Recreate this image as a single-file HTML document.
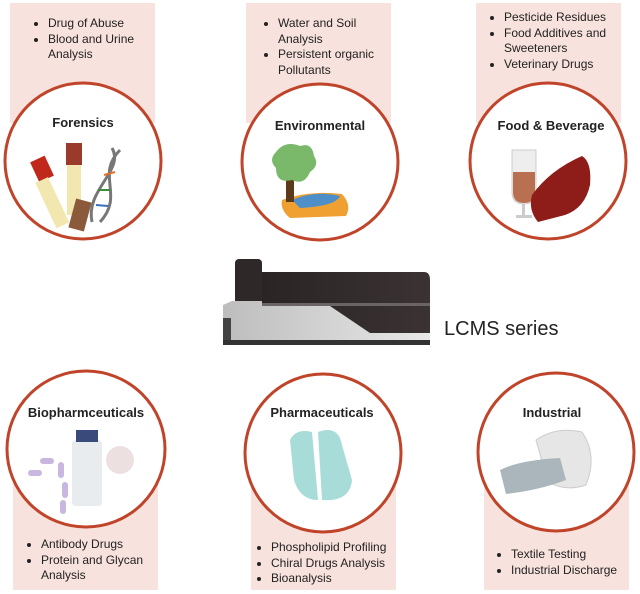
<!DOCTYPE html>
<html><head><style>
html,body{margin:0;padding:0;background:#fff;}
body{width:640px;height:594px;position:relative;overflow:hidden;font-family:"Liberation Sans",sans-serif;}
</style></head><body>
<svg width="640" height="594" viewBox="0 0 640 594" xmlns="http://www.w3.org/2000/svg" style="position:absolute;left:0;top:0">
<defs>
<linearGradient id="dk" x1="0" x2="1"><stop offset="0" stop-color="#2a2424"/><stop offset="1" stop-color="#3b3333"/></linearGradient>
<linearGradient id="gr" x1="0" x2="1"><stop offset="0" stop-color="#bdbdbd"/><stop offset="1" stop-color="#e8e8e8"/></linearGradient>
</defs>
<g fill="#f8e2dd">
<rect x="10" y="3" width="145" height="120"/>
<rect x="246" y="3" width="145" height="120"/>
<rect x="476" y="3" width="145" height="120"/>
<rect x="13" y="470" width="145" height="120"/>
<rect x="251" y="470" width="145" height="120"/>
<rect x="484" y="470" width="145" height="120"/>
</g>
<g fill="#fff" stroke="#c0442a" stroke-width="3">
<ellipse cx="83" cy="161" rx="78" ry="78"/>
<ellipse cx="320" cy="162" rx="78" ry="78"/>
<ellipse cx="548" cy="161" rx="78" ry="78"/>
<ellipse cx="86" cy="449" rx="79" ry="78"/>
<ellipse cx="323" cy="453" rx="78" ry="79"/>
<ellipse cx="556" cy="452" rx="78" ry="79"/>
</g>
<!-- forensics icon -->
<g>
<rect x="34" y="158" width="16" height="22" fill="#c0281c" transform="rotate(-25 42 169)"/>
<rect x="44" y="178" width="14" height="50" fill="#f3e7b0" transform="rotate(-25 51 200)"/>
<rect x="66" y="143" width="16" height="22" fill="#9a3a2a"/>
<rect x="67" y="165" width="14" height="50" fill="#f3e7b0"/>
<rect x="72" y="200" width="16" height="30" fill="#8a5a3a" transform="rotate(15 80 215)"/>
<path d="M112 148 C125 170 85 190 92 222 M120 150 C95 175 125 195 100 222" stroke="#777" stroke-width="3" fill="none"/>
<g stroke-width="2"><line x1="104" y1="175" x2="115" y2="172" stroke="#e07030"/><line x1="98" y1="190" x2="110" y2="190" stroke="#3b8c3b"/><line x1="96" y1="205" x2="108" y2="206" stroke="#3a6ec0"/></g>
</g>
<!-- environmental icon -->
<path d="M282 200 Q310 190 342 194 Q352 205 346 216 L290 218 Q280 210 282 200 Z" fill="#f0a030"/>
<path d="M292 200 Q315 190 340 196 Q336 206 300 208 Z" fill="#4f8fc8"/>
<rect x="286" y="172" width="8" height="30" fill="#5a3a1a"/>
<path d="M276 152 Q285 140 300 146 Q312 142 314 156 Q320 165 310 172 Q304 186 292 180 Q276 184 276 168 Q268 160 276 152 Z" fill="#7ab86a"/>
<!-- food -->
<path d="M512 150 L536 150 L536 192 Q536 204 524 204 Q512 204 512 192 Z" fill="#eee" stroke="#ccc"/>
<path d="M513 172 L535 172 L535 192 Q535 203 524 203 Q513 203 513 192 Z" fill="#b87050"/>
<rect x="522" y="204" width="3" height="12" fill="#ccc"/><rect x="516" y="215" width="16" height="3" fill="#ccc"/>
<path d="M532 195 Q550 170 582 156 Q592 162 590 185 Q585 208 565 215 L538 222 Q528 210 532 195 Z" fill="#8e1c18"/>
<!-- bio icon -->
<rect x="72" y="440" width="30" height="66" rx="4" fill="#e8ecef"/>
<rect x="76" y="430" width="22" height="12" fill="#3a4a7a"/>
<g fill="#c8b8e0"><rect x="58" y="462" width="6" height="16" rx="3"/><rect x="62" y="482" width="6" height="16" rx="3"/><rect x="40" y="458" width="14" height="6" rx="3"/><rect x="28" y="470" width="14" height="6" rx="3"/><rect x="60" y="500" width="6" height="14" rx="3"/></g>
<circle cx="120" cy="460" r="14" fill="#e8d8d8" opacity=".8"/>
<!-- pharma -->
<path d="M290 440 Q296 428 312 432 L318 500 Q300 500 294 480 Z" fill="#a8dcd8"/>
<path d="M318 432 Q334 426 340 438 L352 480 Q350 502 322 500 Z" fill="#a8dcd8"/>
<!-- industrial -->
<path d="M536 440 Q556 426 582 432 Q598 455 586 485 Q566 492 548 482 Z" fill="#e6e6e6" stroke="#ccc"/>
<path d="M500 470 Q520 460 560 458 L566 480 Q540 490 506 494 Z" fill="#aab6bb"/>
<!-- device -->
<path d="M262 272 L424 272 Q430 272 430 280 L430 335 L262 335 Z" fill="url(#dk)"/>
<rect x="235" y="259" width="27" height="46" rx="4" fill="#2e2828"/>
<path d="M223 305 L232 301 L262 301 L262 306 L330 306 L370 333 L430 333 L430 340 L223 345 Z" fill="url(#gr)"/>
<rect x="223" y="318" width="8" height="27" fill="#444"/>
<rect x="223" y="340" width="207" height="5" fill="#333"/>
<rect x="262" y="303" width="168" height="3" fill="#6a6464"/>
</svg>
<div style="position:absolute;left:444px;top:318px;font-size:20px;color:#222">LCMS series</div>
<style>
.t{position:absolute;font-weight:bold;font-size:13px;color:#222;text-align:center;width:160px}
ul{position:absolute;margin:0;padding-left:14px;font-size:12px;line-height:15.5px;color:#222}
</style>
<div class="t" style="left:3px;top:115px">Forensics</div>
<div class="t" style="left:240px;top:118px">Environmental</div>
<div class="t" style="left:471px;top:118px">Food &amp; Beverage</div>
<div class="t" style="left:6px;top:405px">Biopharmceuticals</div>
<div class="t" style="left:242px;top:405px">Pharmaceuticals</div>
<div class="t" style="left:472px;top:405px">Industrial</div>
<ul style="left:34px;top:16px;width:120px"><li>Drug of Abuse</li><li>Blood and Urine Analysis</li></ul>
<ul style="left:264px;top:16px;width:125px"><li>Water and Soil Analysis</li><li>Persistent organic Pollutants</li></ul>
<ul style="left:490px;top:10px;width:135px"><li>Pesticide Residues</li><li>Food Additives and Sweeteners</li><li>Veterinary Drugs</li></ul>
<ul style="left:27px;top:537px;width:125px"><li>Antibody Drugs</li><li>Protein and Glycan Analysis</li></ul>
<ul style="left:257px;top:540px;width:140px"><li>Phospholipid Profiling</li><li>Chiral Drugs Analysis</li><li>Bioanalysis</li></ul>
<ul style="left:497px;top:547px;width:140px"><li>Textile Testing</li><li>Industrial Discharge</li></ul>
</body></html>
